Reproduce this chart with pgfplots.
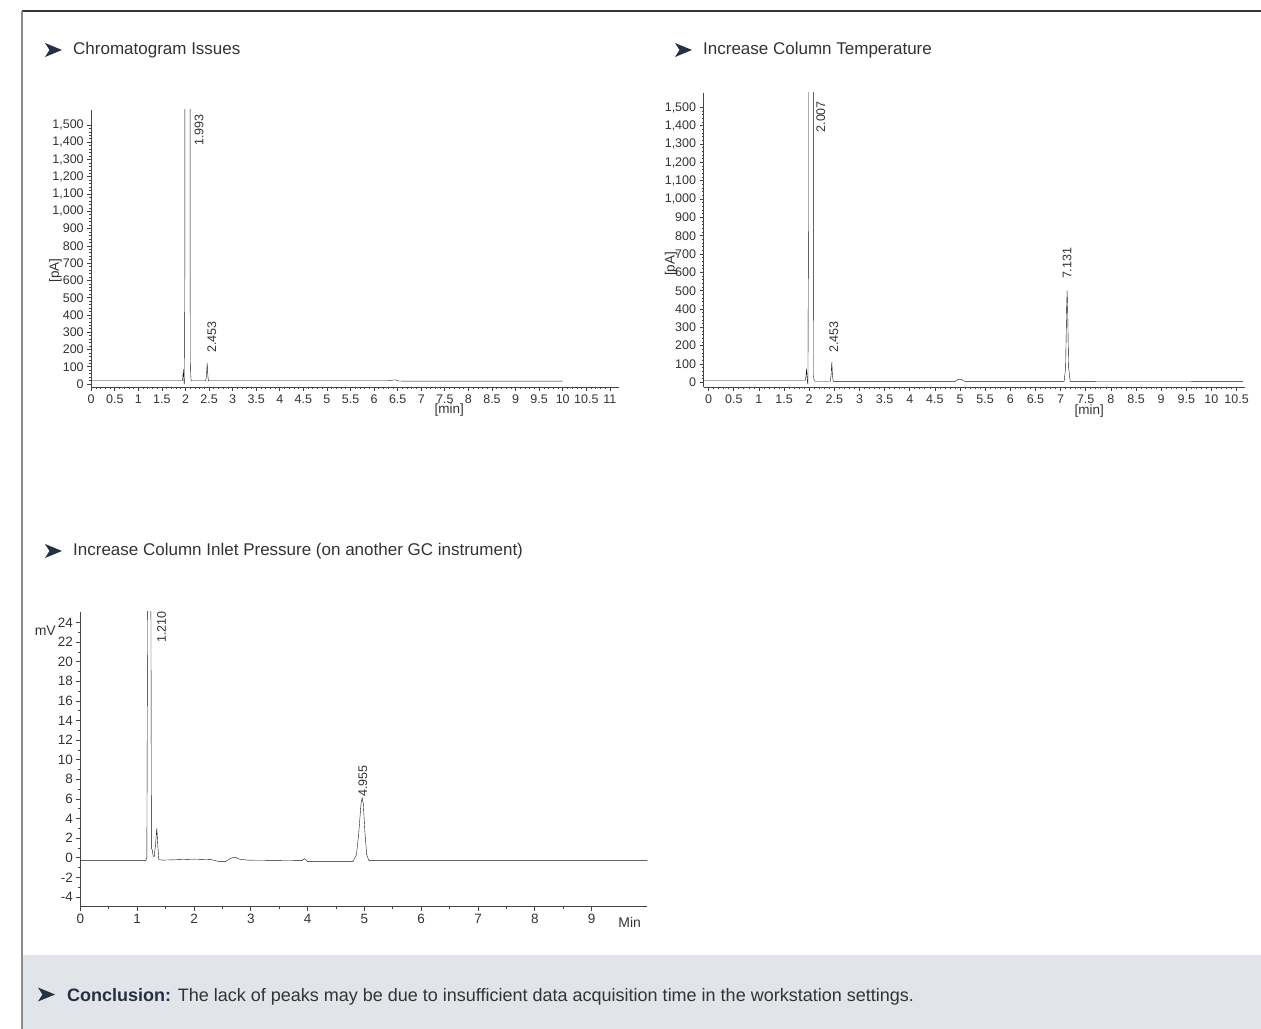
\documentclass[border=0pt]{standalone}
\usepackage{pgfplots}
\pgfplotsset{compat=1.18}
\usepackage{fontspec}
\setmainfont{Liberation Sans}
\definecolor{navy}{HTML}{243142}
\definecolor{txt}{HTML}{333333}
\definecolor{boxgray}{HTML}{E1E4E9}
\definecolor{axc}{HTML}{444444}
\definecolor{sig}{HTML}{111111}
\newcommand{\tfont}{\fontsize{17bp}{20bp}\selectfont}
\newcommand{\arrowhead}[2]{\fill[navy] (#1,#2+7) -- (#1+17,#2) -- (#1,#2-7) -- (#1+4.5,#2) -- cycle;}
\tikzset{pklab/.style={rotate=90, anchor=west, inner sep=0pt, font=\fontsize{12.5bp}{13bp}\selectfont, text=txt}}
\pgfplotsset{
  chrom/.style={
    anchor=south west, scale only axis,
    axis lines=left, axis line style={-, line width=0.9bp, color=axc},
    tick align=outside, major tick length=4bp, minor tick length=2bp,
    every tick/.style={line width=0.7bp, color=axc},
    tick label style={font=\fontsize{12.5bp}{13bp}\selectfont, text=txt},
    /pgf/number format/assume math mode=true,
    yticklabel style={/pgf/number format/1000 sep={,}},
    scaled ticks=false,
    cycle list={{sig, line width=1.4bp, mark=none}},
    label style={font=\fontsize{13.5bp}{14bp}\selectfont, text=txt},
  },
}
\begin{document}
\begin{tikzpicture}[x=1bp,y=1bp]
\useasboundingbox (0,0) rectangle (1261,1029);
\fill[boxgray] (22,0) rectangle (1261,74);
\draw[line width=1.5bp, color=black!80] (22,1018) -- (1261,1018);
\draw[line width=1.5bp, color=black!45] (22,1018) -- (22,0);

% titles
\arrowhead{45}{979}
\node[anchor=base west, inner sep=0pt, font=\tfont, text=txt] at (73,974) {Chromatogram Issues};
\arrowhead{675}{979}
\node[anchor=base west, inner sep=0pt, font=\tfont, text=txt] at (703,974) {Increase Column Temperature};
\arrowhead{45}{478}
\node[anchor=base west, inner sep=0pt, font=\tfont, text=txt] at (73,473) {Increase Column Inlet Pressure (on another GC instrument)};
\arrowhead{38}{34.5}
\node[anchor=base west, inner sep=0pt, font=\fontsize{18bp}{21bp}\selectfont, text=txt] at (67,27.3) {\textcolor{navy}{\textbf{Conclusion:}} The lack of peaks may be due to insufficient data acquisition time in the workstation settings.};

% plot 1
\begin{axis}[chrom,
  at={(91.2bp,642bp)}, width=528.1bp, height=277bp,
  xmin=0, xmax=11.2, ymin=-17, ymax=1587,
  xtick={0,0.5,1,1.5,2,2.5,3,3.5,4,4.5,5,5.5,6,6.5,7,7.5,8,8.5,9,9.5,10,10.5,11}, minor x tick num=4,
  ytick={0,100,200,300,400,500,600,700,800,900,1000,1100,1200,1300,1400,1500}, minor y tick num=4,
  xlabel={[min]}, xlabel style={at={(axis description cs:0.678,-0.083)}, anchor=center},
  ylabel={[pA]}, ylabel style={at={(axis description cs:-0.068,0.42)}, anchor=center},
]
\addplot coordinates {(0,19) (1.93,19) (1.94,30) (1.955,85) (1.963,35) (1.972,2) (1.978,5) (1.985,600) (1.99,3000) (2.095,3000) (2.10,125) (2.107,110) (2.113,40) (2.12,19) (2.43,19) (2.445,50) (2.46,122) (2.472,55) (2.485,19) (6.3,19) (6.4,23) (6.45,24) (6.52,18) (6.6,17) (10,17)};
\node[pklab] at (axis cs:2.29,1378) {1.993};
\node[pklab] at (axis cs:2.56,180) {2.453};
\end{axis}

% plot 2
\begin{axis}[chrom,
  at={(703.6bp,641.7bp)}, width=541.5bp, height=294.6bp,
  xmin=-0.1, xmax=10.67, ymin=-27, ymax=1581,
  xtick={0,0.5,1,1.5,2,2.5,3,3.5,4,4.5,5,5.5,6,6.5,7,7.5,8,8.5,9,9.5,10,10.5}, minor x tick num=4,
  ytick={0,100,200,300,400,500,600,700,800,900,1000,1100,1200,1300,1400,1500}, minor y tick num=4,
  xlabel={[min]}, xlabel style={at={(axis description cs:0.712,-0.081)}, anchor=center},
  ylabel={[pA]}, ylabel style={at={(axis description cs:-0.060,0.419)}, anchor=center},
]
\addplot coordinates {(-0.1,10) (1.92,10) (1.935,30) (1.948,75) (1.958,30) (1.968,-5) (1.975,-8) (1.985,800) (1.99,3000) (2.08,3000) (2.085,40) (2.095,15) (2.11,6) (2.42,6) (2.435,40) (2.45,110) (2.462,40) (2.478,5) (4.9,5) (4.97,17) (5.03,15) (5.1,5) (7.07,5) (7.1,80) (7.12,400) (7.13,500) (7.14,400) (7.16,80) (7.19,5) (10.63,4)};
\node[pklab] at (axis cs:2.23,1363) {2.007};
\node[pklab] at (axis cs:2.49,162) {2.453};
\node[pklab] at (axis cs:7.13,563) {7.131};
\end{axis}

% plot 3
\begin{axis}[chrom,
  at={(80.4bp,122.3bp)}, width=566.9bp, height=295bp,
  xmin=0, xmax=9.98, ymin=-5, ymax=25.1,
  xtick={0,1,2,3,4,5,6,7,8,9}, minor x tick num=1,
  ytick={-4,-2,0,2,4,6,8,10,12,14,16,18,20,22,24}, minor y tick num=1,
  tick label style={font=\fontsize{13.5bp}{14bp}\selectfont, text=txt},
  xlabel={Min}, xlabel style={at={(axis description cs:0.969,-0.055)}, anchor=center, font=\fontsize{14bp}{15bp}\selectfont},
  ylabel={mV}, ylabel style={at={(axis description cs:-0.062,0.937)}, anchor=center, rotate=-90, font=\fontsize{14bp}{15bp}\selectfont},
]
\addplot coordinates {(0,-0.3) (1.15,-0.3) (1.17,0) (1.185,30) (1.24,30) (1.25,1.0) (1.265,0.8) (1.28,0.2) (1.30,0.1) (1.325,1.5) (1.345,3.0) (1.36,1.5) (1.38,-0.2) (1.45,-0.25) (2.0,-0.15) (2.3,-0.2) (2.45,-0.4) (2.55,-0.4) (2.65,-0.05) (2.72,0.05) (2.8,-0.15) (2.95,-0.25) (3.9,-0.3) (3.95,-0.1) (4.0,-0.4) (4.8,-0.4) (4.86,0.3) (4.9,2.5) (4.94,5.5) (4.96,6.1) (4.98,5.5) (5.01,2.5) (5.04,0.3) (5.08,-0.3) (9.98,-0.3)};
\node[pklab] at (axis cs:1.43,21.9) {1.210};
\node[pklab] at (axis cs:4.97,6.2) {4.955};
\end{axis}
\end{tikzpicture}
\end{document}
